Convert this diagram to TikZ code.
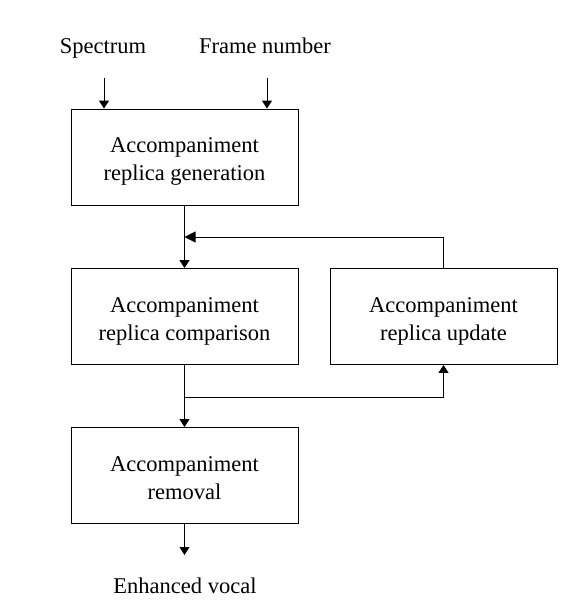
\documentclass[tikz,border=0pt]{standalone}
\usepackage{fontspec}
\setmainfont{Liberation Serif}
\usetikzlibrary{arrows.meta}
\newcommand{\btxt}[1]{\raisebox{-4pt}[\height][\depth]{\begin{tabular}{@{}c@{}}#1\end{tabular}}}
\begin{document}
\begin{tikzpicture}[x=1pt,y=-1pt,
  blk/.style={draw, line width=0.9pt, minimum width=227pt, minimum height=96pt, align=center, font=\fontsize{22.5}{28}\selectfont, inner sep=0pt},
  lbl/.style={font=\fontsize{22.5}{27}\selectfont, inner sep=0pt, anchor=base},
  arr/.style={line width=0.9pt, -{Triangle[length=8pt,width=10pt]}},
  ln/.style={line width=0.9pt}]
\useasboundingbox (0,0) rectangle (575,606);
\node[blk] (gen) at (184.5,157) {\btxt{Accompaniment\\replica generation}};
\node[blk] (cmp) at (184.5,316.5) {\btxt{Accompaniment\\replica comparison}};
\node[blk] (upd) at (443.5,316.5) {\btxt{Accompaniment\\replica update}};
\node[blk] (rem) at (184.5,475.5) {\btxt{Accompaniment\\removal}};
\node[lbl] (spec) at (103,53) {Spectrum};
\node[lbl] (frame) at (265,53) {Frame number};
\node[lbl] (voc) at (185,593) {Enhanced vocal};
\coordinate (s1) at (104,78);
\coordinate (f1) at (267,78);
\coordinate (fb) at (184.5,237);
\coordinate (fbr) at (443.5,237);
\coordinate (br) at (184.5,397);
\coordinate (brr) at (443.5,397);
\coordinate (out) at (184.5,555);
\draw[arr] (s1) -- (s1 |- gen.north);
\draw[arr] (f1) -- (f1 |- gen.north);
\draw[arr] (gen.south) -- (cmp.north);
\draw[line width=0.9pt, -{Triangle[length=11pt,width=11pt]}] (upd.north) -- (fbr) -- (fb);
\draw[arr] (cmp.south) -- (rem.north);
\draw[arr] (br) -- (brr) -- (upd.south);
\draw[arr] (rem.south) -- (out);
\end{tikzpicture}
\end{document}
